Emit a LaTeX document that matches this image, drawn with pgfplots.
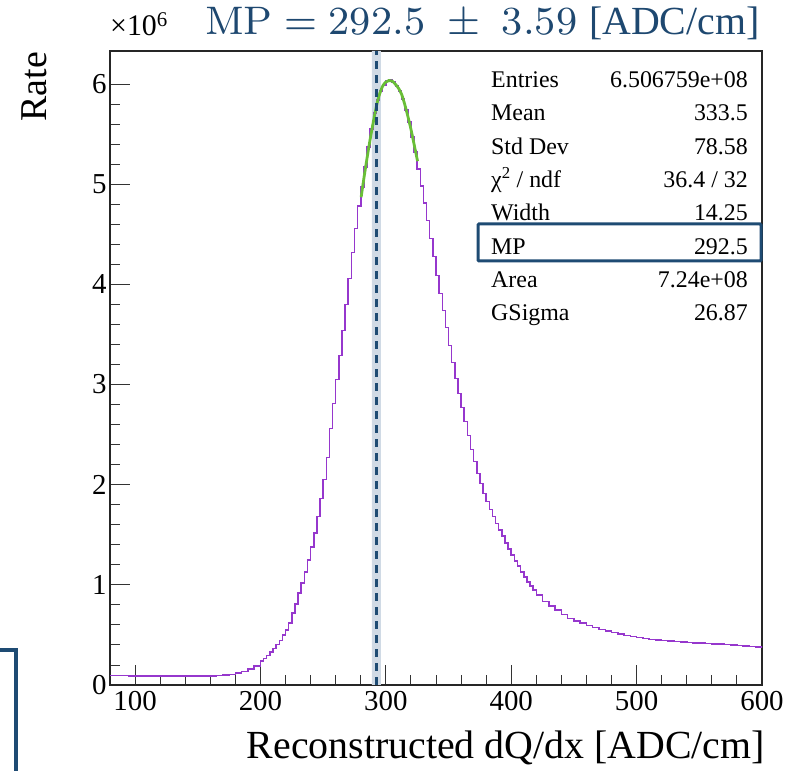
\documentclass[border=0pt]{standalone}
\usepackage{pgfplots}
\pgfplotsset{compat=1.18}
\usepackage{fontspec}
\setmainfont{Liberation Serif}
\newfontfamily\lmr{lmroman8-regular.otf}
\newcommand\fs[1]{\fontsize{#1}{#1}\selectfont}
\definecolor{histpurple}{RGB}{150,55,205}
\definecolor{fitgreen}{RGB}{105,190,55}
\definecolor{mpblue}{RGB}{30,75,115}
\definecolor{bandcol}{RGB}{208,218,229}
\definecolor{titleblue}{RGB}{30,72,112}
\begin{document}
\begin{tikzpicture}
\path[use as bounding box] (-110bp,-86bp) rectangle (684bp,685bp);
\begin{axis}[
  name=ax, at={(0,0)}, anchor=south west,
  scale only axis, width=652bp, height=634bp,
  xmin=80, xmax=600, ymin=0, ymax=6.33,
  xtick={100,200,300,400,500,600}, ytick={0,1,2,3,4,5,6},
  minor x tick num=4, minor y tick num=4,
  tick align=inside, tick pos=left,
  major tick length=20bp, minor tick length=10bp,
  axis line style={line width=1.2bp, color=black!85},
  tick style={line width=0.9bp, color=black!80},
  /pgf/number format/assume math mode=true,
  ticklabel style={font=\fs{29}},
  xticklabel style={yshift=-3bp},
  clip=true,
]
\addplot[fill=bandcol, draw=none] coordinates {(288.91,0) (288.91,6.33) (296.09,6.33) (296.09,0)} \closedcycle;
\addplot[const plot, color=histpurple, line width=1.5bp] coordinates {
(80,0.095) (85,0.094) (90,0.093) (95,0.092) (100,0.091) (105,0.090) (110,0.090) (115,0.089)
(120,0.089) (125,0.088) (130,0.088) (135,0.088) (140,0.088) (145,0.088) (150,0.089) (155,0.089)
(160,0.090) (165,0.093) (170,0.098) (175,0.107) (180,0.120) (185,0.137) (190,0.158) (195,0.190)
(200,0.24) (202.5,0.265) (205,0.295) (207.5,0.33) (210,0.365) (212.5,0.405) (215,0.445) (217.5,0.50)
(220,0.55) (222.5,0.62) (225,0.72) (227.5,0.81) (230,0.92) (232.5,1.02) (235,1.13) (237.5,1.25)
(240,1.38) (242.5,1.52) (245,1.68) (247.5,1.86) (250,2.05) (252.5,2.27) (255,2.56) (257.5,2.81)
(260,3.05) (262.5,3.29) (265,3.54) (267.5,3.80) (270,4.06) (272.5,4.32) (275,4.56) (277.5,4.78)
(280,4.97) (282.5,5.17) (285,5.37) (287.5,5.55) (290,5.71) (292.5,5.84) (295,5.93) (297.5,5.99)
(300,6.03) (302.5,6.04) (305,6.02) (307.5,5.98) (310,5.93) (312.5,5.85) (315,5.74) (317.5,5.62)
(320,5.47) (322.5,5.32) (325,5.15) (327.5,4.98) (330,4.81) (332.5,4.64) (335,4.46) (337.5,4.28)
(340,4.09) (342.5,3.91) (345,3.74) (347.5,3.57) (350,3.39) (352.5,3.22) (355,3.06) (357.5,2.91)
(360,2.77) (362.5,2.63) (365,2.49) (367.5,2.35) (370,2.23) (372.5,2.11) (375,2.01) (377.5,1.91)
(380,1.83) (382.5,1.75) (385,1.68) (387.5,1.61) (390,1.55) (392.5,1.49) (395,1.42) (397.5,1.36)
(400,1.30) (402.5,1.24) (405,1.19) (407.5,1.13) (410,1.08) (412.5,1.03) (415,0.99) (417.5,0.95)
(420,0.90) (425,0.835) (430,0.79) (435,0.75)
(440,0.705) (445,0.665) (450,0.64) (455,0.62) (460,0.595) (465,0.575) (470,0.555) (475,0.54)
(480,0.525) (485,0.51) (490,0.495) (495,0.482) (500,0.472) (505,0.464) (510,0.456) (515,0.449)
(520,0.443) (525,0.438) (530,0.433) (535,0.428) (540,0.424) (545,0.420) (550,0.417) (555,0.414)
(560,0.411) (565,0.408) (570,0.405) (575,0.401) (580,0.396) (585,0.391) (590,0.385) (595,0.380)
(600,0.376)};
\addplot[color=fitgreen, line width=2.8bp, smooth] coordinates {
(280.3,4.87) (282.5,5.06) (285,5.26) (287.5,5.45) (290,5.62) (292.5,5.78) (295,5.9)
(297.5,5.98) (300,6.02) (302.5,6.035) (305,6.03) (307.5,6.0) (310,5.96) (312.5,5.9)
(315,5.8) (317.5,5.68) (320,5.55) (322.5,5.4) (325.3,5.23)};
\addplot[color=mpblue, line width=2.2bp, dash pattern=on 8bp off 6bp] coordinates {(292.5,0) (292.5,6.33)};
\end{axis}
% title and labels
\node[anchor=base west, text=titleblue, inner sep=0pt] at (95bp,650bp)
  {\fs{40}{\lmr MP\hspace{0.29em}=\hspace{0.29em}292.5\hspace{0.55em}±\hspace{0.55em}3.59}\hspace{0.3em}[ADC/cm]};
\node[anchor=base west, inner sep=0pt] at (0bp,649bp) {\fs{30}×10\textsuperscript{6}};
\node[rotate=90, anchor=base east, inner sep=0pt] at (-63bp,633bp) {\fs{38}Rate};
\node[anchor=base east, inner sep=0pt] at (655bp,-73bp) {\fs{40}Reconstructed dQ/dx [ADC/cm]};
% stats box
\foreach \lab/\val [count=\i from 0] in {Entries/6.506759e+08, Mean/333.5, Std Dev/78.58,
  {χ\textsuperscript{2} / ndf}/{36.4 / 32}, Width/14.25, MP/292.5, Area/7.24e+08, GSigma/26.87}{
  \node[anchor=base west, inner sep=0pt] at (381bp,{(597.3-33.27*\i)*1bp}) {\fs{24}\lab};
  \node[anchor=base east, inner sep=0pt] at (638bp,{(597.3-33.27*\i)*1bp}) {\fs{24}\val};
}
\draw[mpblue, line width=3bp, rounded corners=1bp] (368bp,424bp) rectangle (651bp,461bp);
\draw[mpblue, line width=4bp] (-115bp,35bp) -- (-94.3bp,35bp) -- (-94.3bp,-95bp);
\end{tikzpicture}
\end{document}
